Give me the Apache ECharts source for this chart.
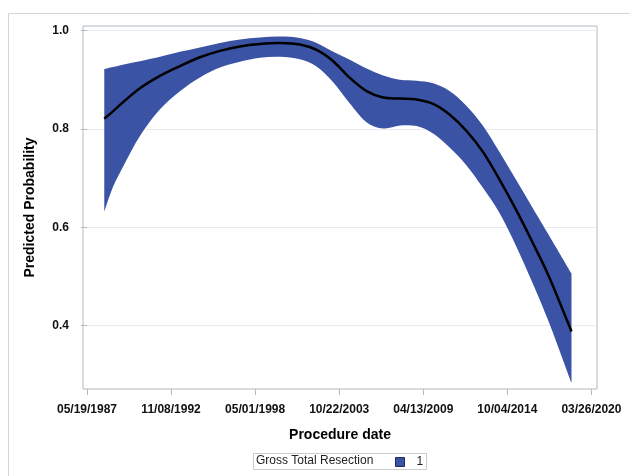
<!DOCTYPE html>
<html>
<head>
<meta charset="utf-8">
<script src="https://cdn.jsdelivr.net/npm/echarts@6/dist/echarts.min.js"></script>
<style>html,body{margin:0;padding:0;background:#fff}#c{width:630px;height:476px}</style>
</head>
<body>
<div id="c"></div>
<script>
// x values: days after 05/19/1987 (first tick)
const dayOffsets = [411,618,904,1260,1736,2212,2687,3163,3638,4114,4590,5065,5462,5857,6254,6651,7046,7443,7840,8235,8632,9029,9424,9821,10218,10613,11010,11526];
const predicted = [0.821,0.836,0.858,0.883,0.908,0.928,0.946,0.959,0.968,0.973,0.975,0.972,0.961,0.938,0.904,0.877,0.864,0.862,0.860,0.851,0.829,0.796,0.753,0.696,0.634,0.567,0.496,0.388];
const lowerCL = [0.632,0.682,0.731,0.786,0.840,0.877,0.905,0.925,0.937,0.945,0.947,0.942,0.927,0.895,0.852,0.814,0.801,0.807,0.806,0.791,0.762,0.726,0.680,0.628,0.560,0.484,0.402,0.283];
const upperCL = [0.922,0.926,0.932,0.938,0.947,0.957,0.966,0.975,0.982,0.986,0.988,0.985,0.975,0.957,0.941,0.923,0.909,0.900,0.898,0.893,0.877,0.847,0.806,0.752,0.695,0.638,0.581,0.506];
const xTickValues = [0,2000,4000,6000,8000,10000,12000];
const xTickLabels = ['05/19/1987','11/08/1992','05/01/1998','10/22/2003','04/13/2009','10/04/2014','03/26/2020'];
const yTickValues = [0.4,0.6,0.8,1.0];

const meanData = dayOffsets.map((d,i)=>[d, predicted[i]]);
const BAND = '#3A53A4';

function splinePath(pts, moveFirst) {
  let s = (moveFirst ? 'M' : 'L') + pts[0][0] + ',' + pts[0][1];
  for (let i = 0; i < pts.length - 1; i++) {
    const p0 = pts[Math.max(0, i-1)], p1 = pts[i], p2 = pts[i+1], p3 = pts[Math.min(pts.length-1, i+2)];
    const c1x = p1[0] + (p2[0]-p0[0])/6, c1y = p1[1] + (p2[1]-p0[1])/6;
    const c2x = p2[0] - (p3[0]-p1[0])/6, c2y = p2[1] - (p3[1]-p1[1])/6;
    s += 'C' + c1x + ',' + c1y + ',' + c2x + ',' + c2y + ',' + p2[0] + ',' + p2[1];
  }
  return s;
}

const chart = echarts.init(document.getElementById('c'));
const font = 'Liberation Sans, Arial, sans-serif';
chart.setOption({
  animation: false,
  textStyle: { fontFamily: font },
  grid: { left: 83, right: 33, top: 26, bottom: 87, containLabel: false, outerBoundsMode: 'none',
          show: true, borderColor: '#B4BABE', borderWidth: 1, backgroundColor: '#fff' },
  xAxis: {
    type: 'value', min: -95, max: 12133,
    name: 'Procedure date', nameLocation: 'middle', nameGap: 39,
    nameTextStyle: { fontSize: 14, fontWeight: 'bold', color: '#000', fontFamily: font },
    axisLine: { show: false },
    axisTick: { show: true, length: 6, lineStyle: { color: '#B4BABE' }, customValues: xTickValues },
    axisLabel: { customValues: xTickValues, margin: 15, fontSize: 12, fontWeight: 'bold', color: '#111', fontFamily: font,
      formatter: v => { const i = Math.round(v/2000); return xTickLabels[i] || ''; } },
    splitLine: { show: false }
  },
  yAxis: {
    type: 'value', min: 0.271, max: 1.0096,
    name: 'Predicted Probability', nameLocation: 'middle', nameGap: 46,
    nameTextStyle: { fontSize: 14, fontWeight: 'bold', color: '#000', fontFamily: font },
    axisLine: { show: false },
    axisTick: { show: true, length: 6, lineStyle: { color: '#B4BABE' }, customValues: yTickValues },
    axisLabel: { customValues: yTickValues, margin: 14, fontSize: 12, fontWeight: 'bold', color: '#111', fontFamily: font,
      formatter: v => v.toFixed(1) },
    splitLine: { show: true, lineStyle: { color: '#E8ECEE', width: 1 } }
  },
  legend: {
    data: ['1'], left: 395, top: 456, padding: 0, itemWidth: 9, itemHeight: 9, icon: 'rect',
    itemStyle: { color: BAND, borderColor: '#1B2A66', borderWidth: 1 },
    textStyle: { fontSize: 12, color: '#222', fontFamily: font, padding: [0,0,0,7] }
  },
  graphic: [
    { type: 'rect', silent: true, z: -10, shape: { x: 8.5, y: 13.5, width: 700, height: 600 }, style: { fill: 'none', stroke: '#D3D6D8', lineWidth: 1 } },
    { type: 'rect', silent: true, shape: { x: 253.5, y: 453.5, width: 173, height: 16 }, style: { fill: 'none', stroke: '#C8CCCE', lineWidth: 1 } },
    { type: 'text', silent: true, left: 256, top: 455, style: { text: 'Gross Total Resection', font: '12px ' + font, fill: '#222' } }
  ],
  series: [
    { name: '1', type: 'custom', data: meanData, encode: { x: 0, y: 1 }, silent: true, z: 2,
      itemStyle: { color: BAND },
      renderItem: function (params, api) {
        if (params.dataIndexInside !== 0) return null;
        const up = dayOffsets.map((d,i)=>api.coord([d, upperCL[i]]));
        const lo = dayOffsets.map((d,i)=>api.coord([d, lowerCL[i]])).reverse();
        const path = splinePath(up, true) + splinePath(lo, false) + 'Z';
        return { type: 'path', shape: { pathData: path }, style: { fill: BAND, stroke: null } };
      }
    },
    { name: 'Predicted', type: 'custom', data: meanData, encode: { x: 0, y: 1 }, silent: true, z: 5,
      renderItem: function (params, api) {
        if (params.dataIndexInside !== 0) return null;
        const pts = dayOffsets.map((d,i)=>api.coord([d, predicted[i]]));
        return { type: 'path', shape: { pathData: splinePath(pts, true) },
                 style: { fill: null, stroke: '#000', lineWidth: 2.5, lineJoin: 'round' } };
      }
    }
  ]
});
</script>
</body>
</html>
